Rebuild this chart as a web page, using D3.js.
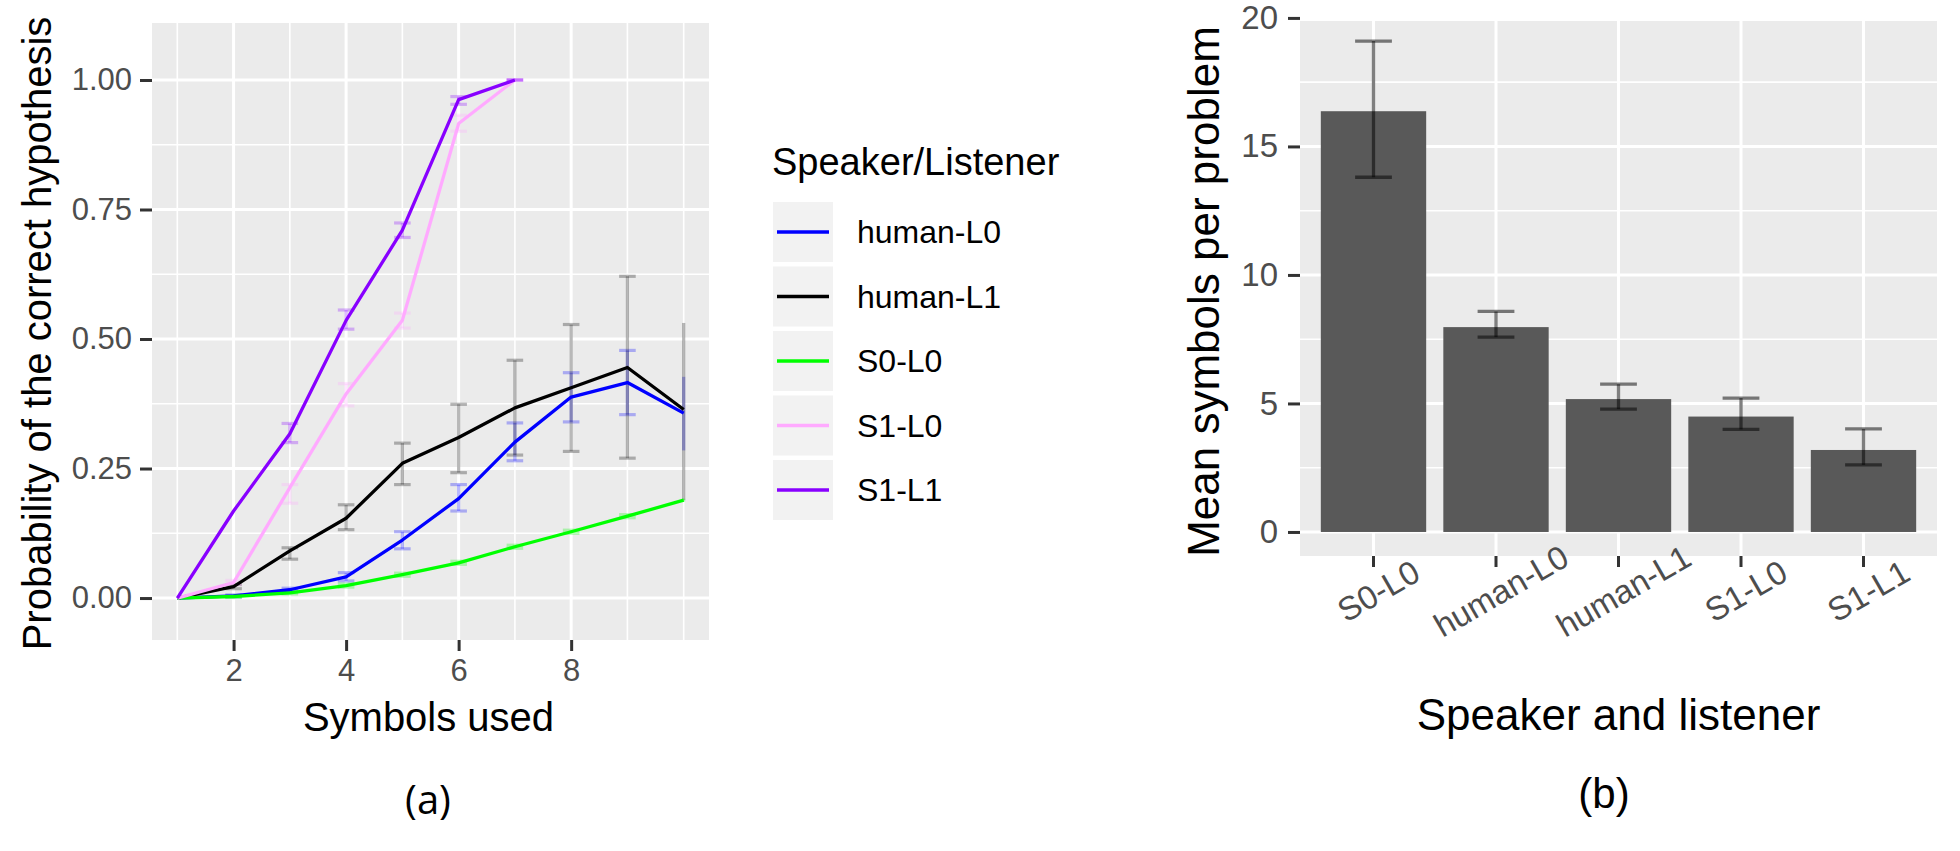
<!DOCTYPE html>
<html>
<head>
<meta charset="utf-8">
<script src="https://cdn.jsdelivr.net/npm/d3@7"></script>
<style>
  body { margin: 0; background: #fff; }
  svg { display: block; font-family: "Liberation Sans", Arial, sans-serif; }
</style>
</head>
<body>
<svg id="chart" width="1960" height="851"></svg>
<script>
// ---- panel (a): probability of the correct hypothesis ----
var steps = [1, 2, 3, 4, 5, 6, 7, 8, 9, 10];
var seriesNames = ["human-L0", "human-L1", "S0-L0", "S1-L0", "S1-L1"];
var seriesColors = ["#0000ff", "#000000", "#00ff00", "#ffaaff", "#8800ff"];

var humanL0   = [0, 0.004, 0.016, 0.041, 0.112, 0.192, 0.301, 0.388, 0.416, 0.357];
var humanL0Lo = [0, 0.002, 0.013, 0.033, 0.095, 0.168, 0.265, 0.340, 0.354, 0.285];
var humanL0Hi = [0, 0.006, 0.019, 0.049, 0.128, 0.219, 0.338, 0.435, 0.478, 0.427];

var humanL1   = [0, 0.022, 0.091, 0.154, 0.260, 0.310, 0.367, 0.406, 0.445, 0.364];
var humanL1Lo = [0, 0.018, 0.075, 0.132, 0.219, 0.242, 0.276, 0.283, 0.270, 0.189];
var humanL1Hi = [0, 0.026, 0.097, 0.180, 0.299, 0.374, 0.459, 0.528, 0.621, 0.531];

var s0L0   = [0, 0.003, 0.010, 0.024, 0.045, 0.068, 0.099, 0.128, 0.158, 0.189];
var s0L0Lo = [0, 0.001, 0.008, 0.021, 0.042, 0.065, 0.096, 0.125, 0.155, 0.186];
var s0L0Hi = [0, 0.005, 0.012, 0.027, 0.048, 0.071, 0.102, 0.131, 0.161, 0.192];

var s1L0   = [0, 0.030, 0.213, 0.394, 0.536, 0.916, 1.0];
var s1L0Lo = [0, 0.026, 0.183, 0.371, 0.521, 0.901, 1.0];
var s1L0Hi = [0, 0.034, 0.219, 0.414, 0.550, 0.932, 1.0];

var s1L1   = [0, 0.168, 0.317, 0.536, 0.710, 0.962, 1.0];
var s1L1Lo = [0, 0.168, 0.300, 0.519, 0.696, 0.953, 1.0];
var s1L1Hi = [0, 0.168, 0.337, 0.556, 0.724, 0.968, 1.0];

var probTicks = [0, 0.25, 0.5, 0.75, 1.0];
var probMinor = [0.125, 0.375, 0.625, 0.875];
var stepTicks = [2, 4, 6, 8];
var stepMinor = [1, 3, 5, 7, 9, 10];

// ---- panel (b): mean symbols per problem ----
var pairs = ["S0-L0", "human-L0", "human-L1", "S1-L0", "S1-L1"];
var meanSymbols = [16.37, 7.97, 5.17, 4.49, 3.19];
var meanLo = [13.80, 7.58, 4.78, 3.99, 2.61];
var meanHi = [19.10, 8.58, 5.75, 5.21, 4.01];
var symTicks = [0, 5, 10, 15, 20];
var symMinor = [2.5, 7.5, 12.5, 17.5];

var svg = d3.select("#chart");
var PANEL = "#ebebeb", TICK = "#333333", TICKTXT = "#4d4d4d";

function series(name, vals, lo, hi) {
  return { name: name, values: vals.map(function (v, i) {
    return { x: steps[i], y: v, lo: lo[i], hi: hi[i] };
  }) };
}
var allSeries = [
  series("human-L0", humanL0, humanL0Lo, humanL0Hi),
  series("human-L1", humanL1, humanL1Lo, humanL1Hi),
  series("S0-L0", s0L0, s0L0Lo, s0L0Hi),
  series("S1-L0", s1L0, s1L0Lo, s1L0Hi),
  series("S1-L1", s1L1, s1L1Lo, s1L1Hi)
];
var color = d3.scaleOrdinal().domain(seriesNames).range(seriesColors);

function drawPanelA() {
  var left = 152, right = 709, top = 23, bottom = 640;
  var x = d3.scaleLinear().domain([0.55, 10.45]).range([left, right]);
  var y = d3.scaleLinear().domain([-0.081, 1.11]).range([bottom, top]);
  var g = svg.append("g");

  g.append("rect").attr("x", left).attr("y", top)
    .attr("width", right - left).attr("height", bottom - top).attr("fill", PANEL);

  g.selectAll(".hmin").data(probMinor).enter().append("line")
    .attr("x1", left).attr("x2", right)
    .attr("y1", function (d) { return y(d); }).attr("y2", function (d) { return y(d); })
    .attr("stroke", "#fff").attr("stroke-width", 1.6);
  g.selectAll(".vmin").data(stepMinor).enter().append("line")
    .attr("y1", top).attr("y2", bottom)
    .attr("x1", function (d) { return x(d); }).attr("x2", function (d) { return x(d); })
    .attr("stroke", "#fff").attr("stroke-width", 1.6);
  g.selectAll(".hmaj").data(probTicks).enter().append("line")
    .attr("x1", left).attr("x2", right)
    .attr("y1", function (d) { return y(d); }).attr("y2", function (d) { return y(d); })
    .attr("stroke", "#fff").attr("stroke-width", 3);
  g.selectAll(".vmaj").data(stepTicks).enter().append("line")
    .attr("y1", top).attr("y2", bottom)
    .attr("x1", function (d) { return x(d); }).attr("x2", function (d) { return x(d); })
    .attr("stroke", "#fff").attr("stroke-width", 3);

  // axes
  var ya = g.append("g").attr("transform", "translate(" + left + ",0)")
    .call(d3.axisLeft(y).tickValues(probTicks).tickSize(12).tickPadding(8)
      .tickFormat(d3.format(".2f")));
  var xa = g.append("g").attr("transform", "translate(0," + bottom + ")")
    .call(d3.axisBottom(x).tickValues(stepTicks).tickSize(11).tickPadding(8));
  [ya, xa].forEach(function (a) {
    a.select(".domain").remove();
    a.selectAll("line").attr("stroke", TICK).attr("stroke-width", 3);
    a.selectAll("text").attr("fill", TICKTXT).style("font-size", "31px")
      .style("font-family", "Liberation Sans, Arial, sans-serif");
  });

  // error bars
  var last = d3.max(steps);
  var cap = 8.3;
  allSeries.forEach(function (s) {
    var eg = g.append("g").attr("stroke", color(s.name))
      .attr("stroke-opacity", 0.28).attr("stroke-width", 3.2);
    var withErr = s.values.filter(function (d) { return d.hi > d.lo; });
    eg.selectAll(".v").data(withErr).enter().append("line")
      .attr("x1", function (d) { return x(d.x); }).attr("x2", function (d) { return x(d.x); })
      .attr("y1", function (d) { return y(d.lo); }).attr("y2", function (d) { return y(d.hi); });
    var capped = s.values.filter(function (d) { return d.x < last && (d.hi > d.lo || d.y === 1); });
    ["lo", "hi"].forEach(function (k) {
      eg.selectAll(".c" + k).data(capped).enter().append("line")
        .attr("x1", function (d) { return x(d.x) - cap; })
        .attr("x2", function (d) { return x(d.x) + cap; })
        .attr("y1", function (d) { return y(d[k]); }).attr("y2", function (d) { return y(d[k]); });
    });
  });

  var line = d3.line().x(function (d) { return x(d.x); }).y(function (d) { return y(d.y); });
  g.selectAll(".series").data(allSeries).enter().append("path")
    .attr("d", function (d) { return line(d.values); })
    .attr("fill", "none").attr("stroke", function (d) { return color(d.name); })
    .attr("stroke-width", 3.3).attr("stroke-linejoin", "round");

  g.append("text").attr("x", (left + right) / 2 - 2).attr("y", 731)
    .attr("text-anchor", "middle").style("font-size", "40px").attr("fill", "#000")
    .text("Symbols used");
  g.append("text").attr("transform", "translate(51," + ((top + bottom) / 2 + 2) + ") rotate(-90)")
    .attr("text-anchor", "middle").style("font-size", "40px").attr("fill", "#000")
    .text("Probability of the correct hypothesis");
  g.append("text").attr("x", 428).attr("y", 814)
    .attr("text-anchor", "middle").style("font-size", "40px")
    .style("font-family", "'Open Sans', sans-serif").attr("fill", "#000")
    .text("(a)");

  // legend
  var lg = g.append("g");
  lg.append("text").attr("x", 772).attr("y", 175).style("font-size", "38px")
    .attr("fill", "#000").text("Speaker/Listener");
  var items = lg.selectAll(".key").data(seriesNames).enter().append("g")
    .attr("transform", function (d, i) { return "translate(773," + (202 + i * 64.5) + ")"; });
  items.append("rect").attr("width", 60).attr("height", 60).attr("fill", "#f2f2f2");
  items.append("line").attr("x1", 4).attr("x2", 56).attr("y1", 30).attr("y2", 30)
    .attr("stroke", function (d) { return color(d); }).attr("stroke-width", 3.3);
  items.append("text").attr("x", 84).attr("y", 41).style("font-size", "32px")
    .attr("fill", "#000").text(function (d) { return d; });
}

function drawPanelB() {
  var left = 1300, right = 1937, top = 21, bottom = 556;
  var x = d3.scaleBand().domain(pairs).range([left, right])
    .paddingInner(0.14).paddingOuter(0.17);
  var y = d3.scaleLinear().domain([-0.935, 19.88]).range([bottom, top]);
  var g = svg.append("g");

  g.append("rect").attr("x", left).attr("y", top)
    .attr("width", right - left).attr("height", bottom - top).attr("fill", PANEL);
  g.selectAll(".hmin").data(symMinor).enter().append("line")
    .attr("x1", left).attr("x2", right)
    .attr("y1", function (d) { return y(d); }).attr("y2", function (d) { return y(d); })
    .attr("stroke", "#fff").attr("stroke-width", 1.6);
  g.selectAll(".hmaj").data(symTicks.filter(function (d) { return y(d) > top; })).enter().append("line")
    .attr("x1", left).attr("x2", right)
    .attr("y1", function (d) { return y(d); }).attr("y2", function (d) { return y(d); })
    .attr("stroke", "#fff").attr("stroke-width", 3);
  g.selectAll(".vmaj").data(pairs).enter().append("line")
    .attr("y1", top).attr("y2", bottom)
    .attr("x1", function (d) { return x(d) + x.bandwidth() / 2; })
    .attr("x2", function (d) { return x(d) + x.bandwidth() / 2; })
    .attr("stroke", "#fff").attr("stroke-width", 3);

  var ya = g.append("g").attr("transform", "translate(" + left + ",0)")
    .call(d3.axisLeft(y).tickValues(symTicks).tickSize(12).tickPadding(10));
  var xa = g.append("g").attr("transform", "translate(0," + bottom + ")")
    .call(d3.axisBottom(x).tickSize(11).tickFormat(""));
  [ya, xa].forEach(function (a) {
    a.select(".domain").remove();
    a.selectAll("line").attr("stroke", TICK).attr("stroke-width", 3);
    a.selectAll("text").attr("fill", TICKTXT).style("font-size", "33px")
      .style("font-family", "Liberation Sans, Arial, sans-serif");
  });

  var bars = pairs.map(function (p, i) {
    return { name: p, v: meanSymbols[i], lo: meanLo[i], hi: meanHi[i] };
  });
  g.selectAll(".bar").data(bars).enter().append("rect")
    .attr("x", function (d) { return x(d.name); })
    .attr("width", x.bandwidth())
    .attr("y", function (d) { return y(d.v); })
    .attr("height", function (d) { return y(0) - y(d.v); })
    .attr("fill", "#595959");

  var eg = g.append("g").attr("stroke", "#000").attr("stroke-opacity", 0.5).attr("stroke-width", 3.3);
  var cx = function (d) { return x(d.name) + x.bandwidth() / 2; };
  eg.selectAll(".v").data(bars).enter().append("line")
    .attr("x1", cx).attr("x2", cx)
    .attr("y1", function (d) { return y(d.lo); }).attr("y2", function (d) { return y(d.hi); });
  ["lo", "hi"].forEach(function (k) {
    eg.selectAll(".c" + k).data(bars).enter().append("line")
      .attr("x1", function (d) { return cx(d) - 18.4; })
      .attr("x2", function (d) { return cx(d) + 18.4; })
      .attr("y1", function (d) { return y(d[k]); }).attr("y2", function (d) { return y(d[k]); });
  });

  // rotated category labels
  g.selectAll(".xl").data(pairs).enter().append("text")
    .attr("transform", function (d) {
      return "translate(" + (x(d) + x.bandwidth() / 2 + 5) + ",591) rotate(-30)";
    })
    .attr("text-anchor", "middle").attr("dominant-baseline", "central")
    .style("font-size", "33px").attr("fill", TICKTXT).text(function (d) { return d; });

  g.append("text").attr("x", (left + right) / 2).attr("y", 730)
    .attr("text-anchor", "middle").style("font-size", "44px").attr("fill", "#000")
    .text("Speaker and listener");
  g.append("text").attr("transform", "translate(1219," + ((top + bottom) / 2 + 3) + ") rotate(-90)")
    .attr("text-anchor", "middle").style("font-size", "44px").attr("fill", "#000")
    .text("Mean symbols per problem");
  g.append("text").attr("x", 1604).attr("y", 808)
    .attr("text-anchor", "middle").style("font-size", "42px").attr("fill", "#000")
    .text("(b)");
}

drawPanelA();
drawPanelB();
</script>
</body>
</html>
